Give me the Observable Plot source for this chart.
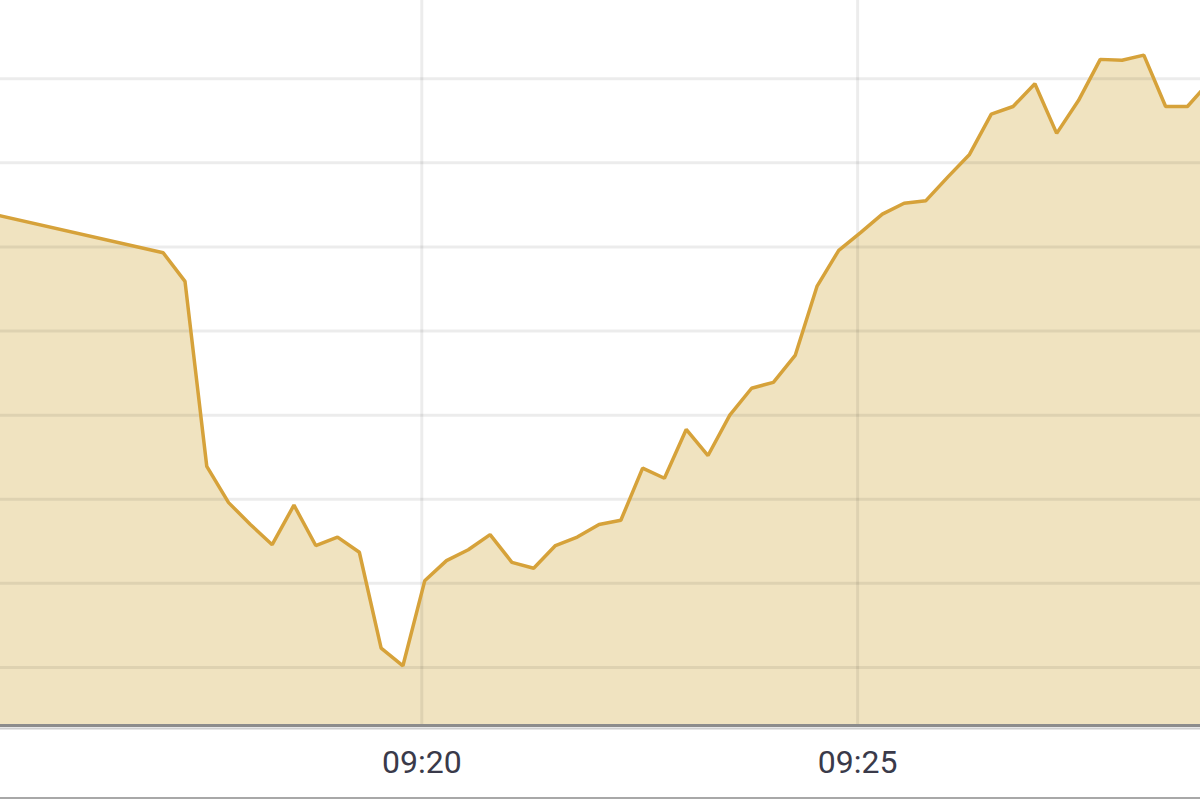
<!DOCTYPE html>
<html>
<head>
<meta charset="utf-8">
<script src="https://cdn.jsdelivr.net/npm/d3@7"></script>
<script src="https://cdn.jsdelivr.net/npm/@observablehq/plot@0.6"></script>
<style>
  html, body { margin: 0; padding: 0; background: #fff; overflow: hidden; }
  #chart { position: relative; width: 1200px; height: 800px; }
  #chart svg { display: block; }
  #edge { position: absolute; left: 0; top: 797px; width: 1200px; height: 2px; background: #a8a8a8; }
  .ticklab { font-family: "Liberation Sans Narrow", "Arial Narrow", "Roboto", sans-serif; }
</style>
</head>
<body>
<div id="chart"><div id="edge"></div></div>
<script>
// Sampled times (every 15 s, one earlier point before a gap)
const times = [
  "09:15:02",
  "09:17:02","09:17:17","09:17:32","09:17:47","09:18:02","09:18:17","09:18:32","09:18:47",
  "09:19:02","09:19:17","09:19:32","09:19:47","09:20:02","09:20:17","09:20:32","09:20:47",
  "09:21:02","09:21:17","09:21:32","09:21:47","09:22:02","09:22:17","09:22:32","09:22:47",
  "09:23:02","09:23:17","09:23:32","09:23:47","09:24:02","09:24:17","09:24:32","09:24:47",
  "09:25:02","09:25:17","09:25:32","09:25:47","09:26:02","09:26:17","09:26:32","09:26:47",
  "09:27:02","09:27:17","09:27:32","09:27:47","09:28:02","09:28:17","09:28:32","09:28:47",
  "09:29:02"
];
const values = [
  105.40,
  104.93,104.59,102.39,101.96,101.70,101.46,101.93,101.45,
  101.55,101.37,100.23,100.02,101.03,101.27,101.40,101.58,
  101.25,101.18,101.45,101.55,101.70,101.75,102.37,102.25,
  102.83,102.52,103.00,103.32,103.39,103.71,104.53,104.96,
  105.17,105.39,105.52,105.55,105.83,106.10,106.58,106.67,
  106.94,106.35,106.74,107.23,107.22,107.28,106.67,106.67,
  106.96
];
const tickLabels = ["09:20", "09:25"];
const gridValues = [100, 101, 102, 103, 104, 105, 106, 107];
const xStart = "09:15:10", xEnd = "09:28:56";
const yMin = 99.31, yMax = 107.93;

const toDate = s => new Date("2024-01-02T" + (s.length === 5 ? s + ":00" : s) + "Z");
const data = times.map((t, i) => ({time: toDate(t), value: values[i]}));
const tickDates = tickLabels.map(toDate);
const fmt = d3.utcFormat("%H:%M");

const chart = Plot.plot({
  width: 1200,
  height: 800,
  marginTop: 0,
  marginRight: 0,
  marginLeft: 0,
  marginBottom: 75,
  x: {type: "utc", domain: [toDate(xStart), toDate(xEnd)], axis: null},
  y: {domain: [yMin, yMax], axis: null},
  marks: [
    Plot.areaY(data, {x: "time", y1: yMin, y2: "value", fill: "#f0e3c0", clip: true}),
    Plot.ruleY(gridValues, {stroke: "#000", strokeOpacity: 0.075, strokeWidth: 3}),
    Plot.ruleX(tickDates, {stroke: "#000", strokeOpacity: 0.075, strokeWidth: 3}),
    Plot.lineY(data, {x: "time", y: "value", stroke: "#d6a23a", strokeWidth: 3.5, strokeLinejoin: "miter", clip: true}),
    Plot.ruleY([yMin], {stroke: "#8c8c8c", strokeWidth: 3, dy: 0}),
    Plot.ruleY([yMin], {stroke: "#cfcfcf", strokeWidth: 2, dy: 3}),
    Plot.text(tickDates, {x: d => d, text: d => fmt(d), frameAnchor: "bottom", dy: 37,
      fontSize: 32, fill: "#3a3a4a", className: "ticklab", lineAnchor: "middle"})
  ]
});
document.getElementById("chart").prepend(chart);
</script>
</body>
</html>
